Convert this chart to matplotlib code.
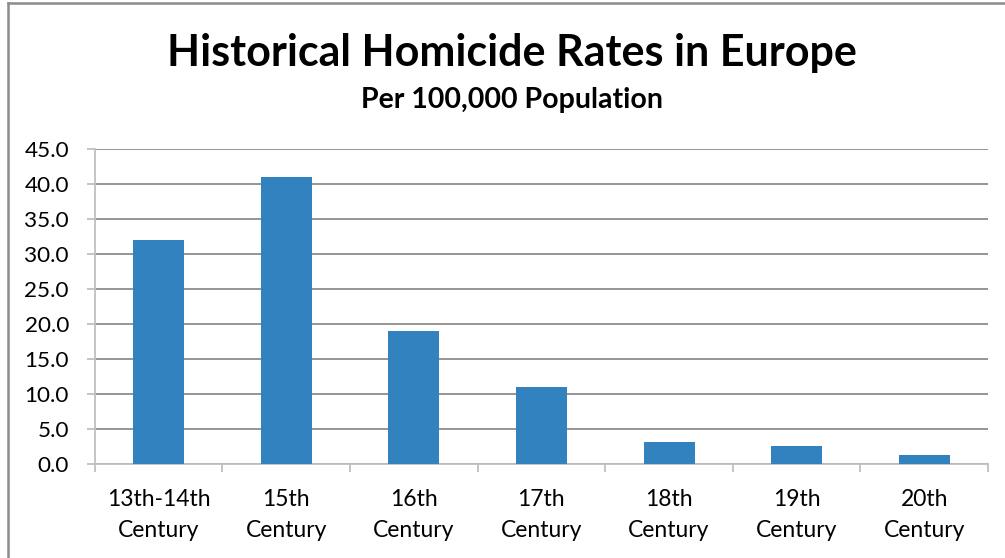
import matplotlib.pyplot as plt
from matplotlib.lines import Line2D

categories = ['13th-14th\nCentury', '15th\nCentury', '16th\nCentury', '17th\nCentury',
              '18th\nCentury', '19th\nCentury', '20th\nCentury']
rates = [32.0, 41.0, 19.0, 11.0, 3.2, 2.6, 1.3]
yticks = [0, 5, 10, 15, 20, 25, 30, 35, 40, 45]

plt.rcParams['font.family'] = ['Lato', 'DejaVu Sans']

fig = plt.figure(figsize=(10.05, 5.58), dpi=100)
ax = fig.add_axes([0.0942, 0.168, 0.889, 0.5645])

x = range(len(rates))
ax.bar(x, rates, width=0.4, color='#3282c0', zorder=3)

ax.set_xlim(-0.5, len(rates) - 0.5)
ax.set_ylim(0, 45)
ax.set_yticks(yticks)
ax.set_yticklabels(['%.1f' % v for v in yticks], fontsize=16.2)
ax.yaxis.grid(True, color='#8c8c8c', linewidth=1.3, zorder=0)

ax.set_xticks(list(x))
ax.set_xticklabels(categories, fontsize=16.5, linespacing=1.55)
ax.set_xticks([i - 0.5 for i in range(len(rates) + 1)], minor=True)
ax.tick_params(axis='x', which='major', length=0, pad=18)
ax.tick_params(axis='x', which='minor', length=6, color='#bfbfbf', width=1.3)
ax.tick_params(axis='y', length=5.8, color='#bfbfbf', width=1.3, pad=12.7)

for s in ['top', 'right']:
    ax.spines[s].set_visible(False)
for s in ['left', 'bottom']:
    ax.spines[s].set_color('#bfbfbf')
    ax.spines[s].set_linewidth(1.3)

fig.text(0.509, 0.8817, 'Historical Homicide Rates in Europe', ha='center', va='baseline',
         fontsize=31, fontweight='bold')
fig.text(0.509, 0.8065, 'Per 100,000 Population', ha='center', va='baseline',
         fontsize=20.5, fontweight='bold')

# outer chart border (only top and left visible in the original crop)
fig.add_artist(Line2D([0.0075, 0.0075], [0, 0.995], transform=fig.transFigure,
                      color='#8c8c8c', linewidth=1.8))
fig.add_artist(Line2D([0.0075, 1.0], [0.995, 0.995], transform=fig.transFigure,
                      color='#8c8c8c', linewidth=1.8))

fig.savefig('out.png', dpi=100)
